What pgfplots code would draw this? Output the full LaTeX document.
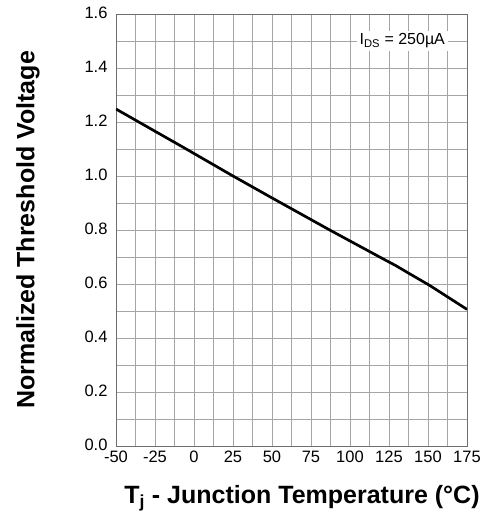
\documentclass[border=0pt]{standalone}
\usepackage{pgfplots}
\pgfplotsset{compat=1.18}
\usepackage{fontspec}
\setmainfont{Liberation Sans}
\definecolor{gridgray}{RGB}{165,165,165}
\definecolor{framegray}{RGB}{110,110,110}
\begin{document}
\begin{tikzpicture}
\begin{axis}[
  scale only axis,
  width=351pt, height=432pt,
  xmin=-50, xmax=175, ymin=0, ymax=1.6,
  xtick={-50,-25,...,175},
  ytick={0,0.2,...,1.6},
  minor x tick num=1,
  minor y tick num=1,
  grid=both,
  major grid style={gridgray, line width=0.8pt},
  minor grid style={gridgray, line width=0.8pt},
  axis line style={framegray, line width=0.9pt},
  major tick length=0pt, minor tick length=0pt,
  tick label style={font=\fontsize{16.5}{16.5}\selectfont},
  /pgf/number format/assume math mode=true,
  yticklabel style={xshift=-5pt, yshift=1pt, /pgf/number format/.cd, fixed, fixed zerofill, precision=1},
  xticklabel style={anchor=north, text height=12pt, text depth=1pt, yshift=-1pt, /pgf/number format/.cd, fixed},
  xtick pos=bottom, ytick pos=left,
  clip=true,
]
\addplot[black, line width=2.7pt] coordinates {
  (-50,1.248) (-5,1.100) (25,1.000) (49,0.922) (87,0.800) (119,0.700) (130,0.666) (137,0.642) (151,0.595) (175,0.506)
};
\node[fill=white, inner sep=3pt, font=\fontsize{16}{16}\selectfont] at (axis cs:133.5,1.5) {I\textsubscript{DS} = 250\textmu A};
\end{axis}
\node[rotate=90, font=\bfseries\fontsize{25}{25}\selectfont] at ([xshift=-88pt]current axis.west) {Normalized Threshold Voltage};
\node[font=\bfseries\fontsize{25}{25}\selectfont, anchor=base] at ([xshift=10.5pt,yshift=-57pt]current axis.south) {T\textsubscript{j} - Junction Temperature (°C)};
\pgfresetboundingbox
\path[use as bounding box] ([xshift=-116pt,yshift=-68pt]current axis.south west) rectangle ([xshift=16pt,yshift=14pt]current axis.north east);
\end{tikzpicture}
\end{document}
